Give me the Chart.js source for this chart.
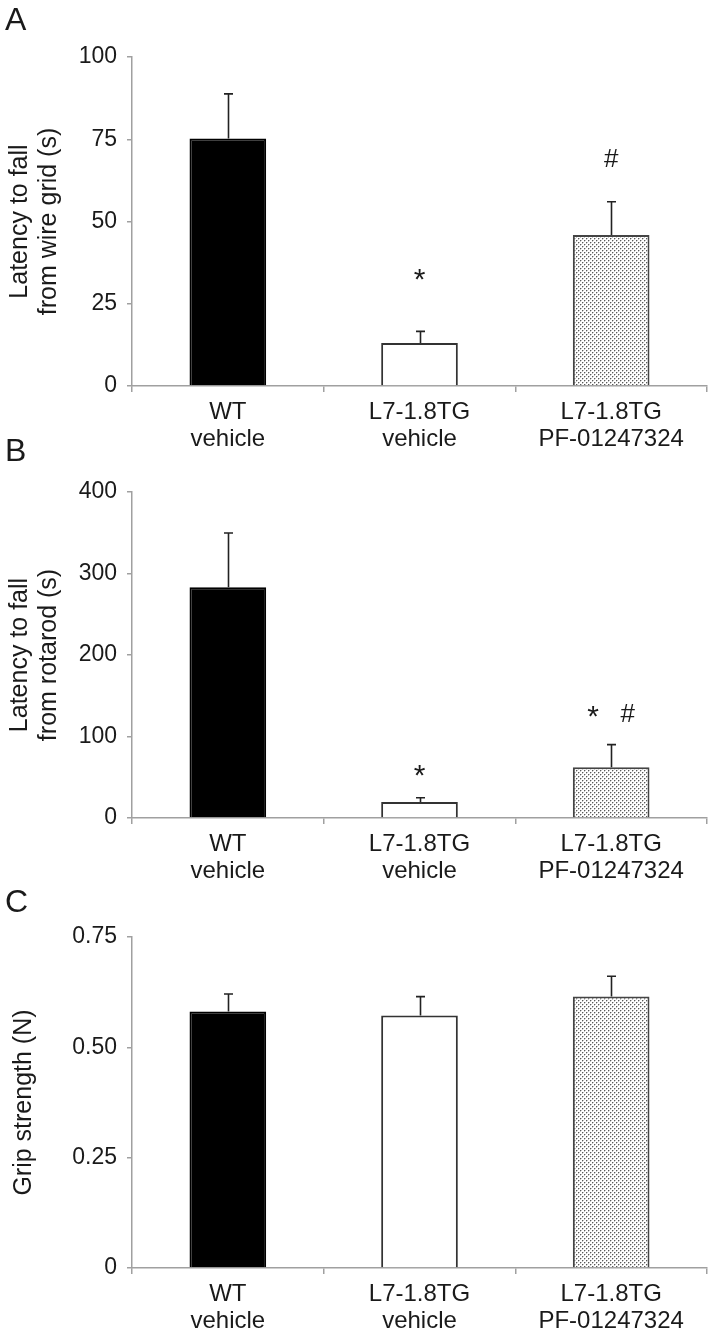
<!DOCTYPE html>
<html><head><meta charset="utf-8">
<script src="https://cdn.jsdelivr.net/npm/chart.js@4.4.0/dist/chart.umd.min.js"></script>
<style>
html,body{margin:0;padding:0;background:#fff;}
#wrap{position:relative;width:714px;height:1333px;overflow:hidden;background:#fff;}
canvas{position:absolute;left:0;}
.lt{position:absolute;left:5px;font-family:"Liberation Sans",Arial,sans-serif;font-size:32px;line-height:32px;color:#1a1a1a;}
</style></head><body>
<div id="wrap">
<canvas id="cA" width="714" height="450" style="top:0px"></canvas>
<canvas id="cB" width="714" height="440" style="top:450px"></canvas>
<canvas id="cC" width="714" height="443" style="top:890px"></canvas>
<div class="lt" style="top:3px">A</div>
<div class="lt" style="top:434px">B</div>
<div class="lt" style="top:885px">C</div>
</div>
<script>
// ---- data ----
const categories = [["WT","vehicle"],["L7-1.8TG","vehicle"],["L7-1.8TG","PF-01247324"]];

const wireGridMeans = [75.2, 13.1, 45.9];
const wireGridSEM   = [13.6, 3.5, 10.1];
const wireGridSig   = ["", "*", "#"];
const wireGridSigLevel = [null, 33.4, 69.3];
const wireGridTicks = [0, 25, 50, 75, 100];
const wireGridTickLabels = ["0", "25", "50", "75", "100"];

const rotarodMeans = [283, 19.6, 62.2];
const rotarodSEM   = [66.7, 5.3, 27.8];
const rotarodSig   = ["", "*", "*   #"];
const rotarodSigLevel = [null, 56.4, 128.8];
const rotarodTicks = [0, 100, 200, 300, 400];
const rotarodTickLabels = ["0", "100", "200", "300", "400"];

const gripMeans = [0.581, 0.572, 0.615];
const gripSEM   = [0.040, 0.043, 0.046];
const gripSig   = ["", "", ""];
const gripSigLevel = [null, null, null];
const gripTicks = [0, 0.25, 0.5, 0.75];
const gripTickLabels = ["0", "0.25", "0.50", "0.75"];

// ---- styling ----
const FONT = '"Liberation Sans", Arial, sans-serif';
const TXT = '#1a1a1a';
const AXIS = '#a0a0a0';

function dotPattern(ctx){
  const c = document.createElement('canvas'); c.width = 4; c.height = 4;
  const g = c.getContext('2d');
  g.fillStyle = '#ffffff'; g.fillRect(0,0,4,4);
  g.fillStyle = '#c4c4c4';
  g.fillRect(1,0,1,1); g.fillRect(0,1,1,1); g.fillRect(3,2,1,1); g.fillRect(2,3,1,1);
  g.fillStyle = '#5a5a5a';
  g.fillRect(0,0,1,1); g.fillRect(2,2,1,1);
  return ctx.createPattern(c, 'repeat');
}

// glyph metrics for annotation symbols: font size and offset of visual centre above baseline (em)
function symFont(ch){ return ch === '*' ? 30 : 26; }
function symRise(ch){ return ch === '*' ? 0.42 : 0.36; }

const errPlugin = {
  id: 'err',
  afterDatasetsDraw(chart, args, o){
    const ctx = chart.ctx, y = chart.scales.y;
    const meta = chart.getDatasetMeta(0);
    ctx.save();
    ctx.strokeStyle = '#222'; ctx.lineWidth = 1.6;
    o.means.forEach((m, i) => {
      const x = Math.round(meta.data[i].x) + 0.5;
      const y0 = y.getPixelForValue(m);
      const y1 = y.getPixelForValue(m + o.sem[i]);
      ctx.beginPath();
      ctx.moveTo(x, y0); ctx.lineTo(x, y1);
      ctx.moveTo(x - 4.5, y1); ctx.lineTo(x + 4.5, y1);
      ctx.stroke();
    });
    ctx.fillStyle = TXT;
    ctx.textAlign = 'left'; ctx.textBaseline = 'alphabetic';
    o.sig.forEach((s, i) => {
      if (!s || o.sigLevel[i] == null) return;
      const chars = s.split('');
      const widths = chars.map(ch => { ctx.font = symFont(ch) + 'px ' + FONT; return ctx.measureText(ch).width; });
      const total = widths.reduce((a, b) => a + b, 0);
      const cy = y.getPixelForValue(o.sigLevel[i]);
      let x = meta.data[i].x - total / 2;
      chars.forEach((ch, k) => {
        const fs = symFont(ch);
        ctx.font = fs + 'px ' + FONT;
        if (ch !== ' ') ctx.fillText(ch, x, cy + symRise(ch) * fs);
        x += widths[k];
      });
    });
    ctx.restore();
  }
};

function makeChart(id, means, sem, sig, sigLevel, ticks, tickLabels, title, padTop, xHeight, titlePad){
  const canvas = document.getElementById(id);
  const ctx = canvas.getContext('2d');
  const pat = dotPattern(ctx);
  return new Chart(ctx, {
    type: 'bar',
    data: {
      labels: categories,
      datasets: [{
        data: means,
        backgroundColor: ['#000000', '#ffffff', pat],
        borderColor: ['#000000', '#333333', '#444444'],
        borderWidth: 2,
        barPercentage: 0.4,
        categoryPercentage: 1.0
      }]
    },
    options: {
      responsive: false,
      animation: false,
      devicePixelRatio: 1,
      layout: { padding: { top: padTop, left: 0, right: 7, bottom: 0 } },
      plugins: {
        legend: { display: false },
        tooltip: { enabled: false },
        err: { means: means, sem: sem, sig: sig, sigLevel: sigLevel }
      },
      scales: {
        x: {
          offset: true,
          grid: { display: true, drawOnChartArea: false, drawTicks: true, tickLength: 6, color: AXIS, offset: true, lineWidth: 1.5 },
          border: { display: true, color: AXIS, width: 1.5 },
          ticks: { color: TXT, font: { family: FONT, size: 24, lineHeight: 1.13 }, padding: 7, maxRotation: 0, autoSkip: false },
          afterFit(s){ s.height = xHeight; }
        },
        y: {
          min: ticks[0], max: ticks[ticks.length - 1],
          afterBuildTicks(s){ s.ticks = ticks.map(v => ({ value: v })); },
          grid: { display: true, drawOnChartArea: false, drawTicks: true, tickLength: 5, color: AXIS, lineWidth: 1.5 },
          border: { display: true, color: AXIS, width: 1.5 },
          ticks: {
            color: TXT, font: { family: FONT, size: 23 }, padding: 10,
            callback: (v, i) => tickLabels[i]
          },
          title: { display: true, text: title, color: TXT, font: { family: FONT, size: 25, lineHeight: 1.15 }, padding: { top: titlePad, bottom: 0 } },
          afterFit(s){ s.width = 132; }
        }
      }
    },
    plugins: [errPlugin]
  });
}

makeChart('cA', wireGridMeans, wireGridSEM, wireGridSig, wireGridSigLevel, wireGridTicks, wireGridTickLabels,
  ['Latency to fall', 'from wire grid (s)'], 57, 64, 6);
makeChart('cB', rotarodMeans, rotarodSEM, rotarodSig, rotarodSigLevel, rotarodTicks, rotarodTickLabels,
  ['Latency to fall', 'from rotarod (s)'], 42, 72, 6);
makeChart('cC', gripMeans, gripSEM, gripSig, gripSigLevel, gripTicks, gripTickLabels,
  'Grip strength (N)', 47, 65, 10);
</script>
</body></html>
